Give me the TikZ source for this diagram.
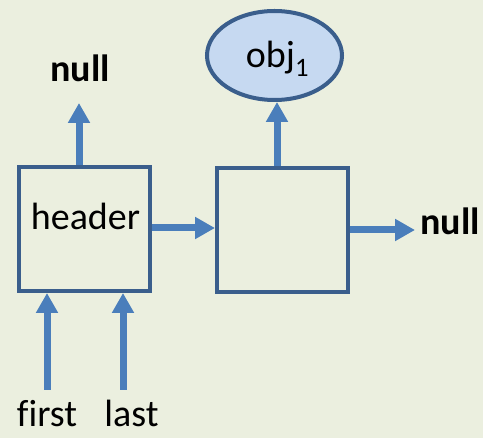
\documentclass[tikz,border=0pt]{standalone}
\usepackage{fontspec}
\setmainfont[Ligatures=CommonOff]{Carlito}
\usetikzlibrary{arrows.meta,shapes.geometric,calc}
\definecolor{bgc}{HTML}{EBEFDF}
\definecolor{arrc}{HTML}{4A7EBB}
\definecolor{boxc}{HTML}{3A5E8C}
\definecolor{ellc}{HTML}{C6D9F1}
\tikzset{
  box/.style={draw=boxc,line width=4pt,minimum width=131pt,minimum height=124pt,inner sep=0pt},
  arr/.style={draw=arrc,line width=7pt,-{Triangle[width=21pt,length=20pt]}},
  txt/.style={inner sep=0pt,anchor=base,font=\fontsize{38}{45}\selectfont},
  btxt/.style={inner sep=0pt,anchor=base,font=\fontsize{38}{45}\selectfont\bfseries}
}
\begin{document}
\begin{tikzpicture}[x=1pt,y=-1pt]
\fill[bgc] (0,0) rectangle (483,438);
\useasboundingbox (0,0) rectangle (483,438);
\node[box] (hdr) at (84.5,229) {};
\node[txt] (hdrtxt) at (85.5,230) {header};
\node[box] (box2) at (282.5,230) {};
\node[draw=boxc,fill=ellc,line width=4pt,ellipse,minimum width=135pt,minimum height=89pt,inner sep=0pt] (obj) at (274.5,55.5) {};
\node[txt] (objtxt) at (277.5,68) {obj\textsubscript{1}};
\node[btxt] (nulltop) at (80,82) {null};
\node[btxt] (nullright) at (450,235) {null};
\node[txt,text depth=0pt] (first) at (47,427) {first};
\node[txt,text depth=0pt] (last) at (131.5,427) {last};
\coordinate (c1) at (79,103);
\coordinate (c2) at (47,390);
\coordinate (c3) at (123,390);
\coordinate (c4) at (277,0);
\coordinate (c5) at (0,228);
\coordinate (c6) at (415,230);
\draw[arr] (hdr.north -| c1) -- (c1);
\draw[arr] (box2.north -| c4) -- (obj.south -| c4);
\draw[arr] (hdr.east |- c5) -- (box2.west |- c5);
\draw[arr] (box2.east |- c6) -- (c6);
\draw[arr] (c2) -- (c2 |- hdr.south);
\draw[arr] (c3) -- (c3 |- hdr.south);
\end{tikzpicture}
\end{document}
